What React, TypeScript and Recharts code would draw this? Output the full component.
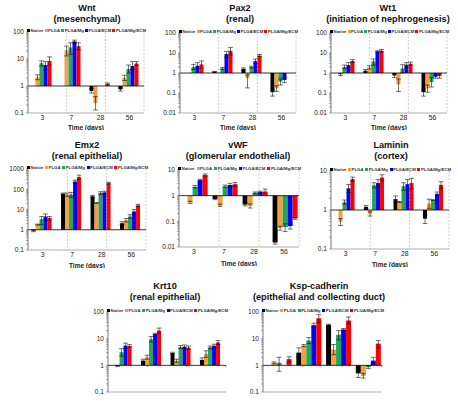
import React from 'react';
import { BarChart, Bar, XAxis, YAxis, ErrorBar, ReferenceLine, Legend } from 'recharts';

const TIMES = ['3', '7', '28', '56'];
const SERIES = ['Native', 'PLGA', 'PLGA/Mg', 'PLGA/ECM', 'PLGA/Mg/ECM'];
const COLORS = ['#000000', '#F4A040', '#21A65A', '#0000FF', '#FF0000'];

// values: rows = series (Native, PLGA, PLGA/Mg, PLGA/ECM, PLGA/Mg/ECM), cols = time
const WNT_VALUES = [
  [1, 1, 0.65, 0.75],
  [2.1, 21, 0.23, 2.0],
  [7, 27, 1.0, 4.3],
  [6, 45, 1.0, 5.5],
  [8.5, 30, 1.2, 6.8],
];
const WNT_ERRORS = [
  [[0.7, 1.4], [0.95, 1.05], [0.55, 0.8], [0.65, 0.85]],
  [[1.7, 2.6], [13, 30], [0.13, 0.4], [1.6, 2.5]],
  [[5.5, 8.5], [15, 40], [0.85, 1.2], [3, 6]],
  [[4, 8], [40, 50], [0.8, 1.2], [4, 8]],
  [[6, 12], [22, 40], [1.1, 1.3], [5.8, 8]],
];
const WNT_TICKS = [0.1, 1, 10, 100];

const PAX2_VALUES = [
  [1, 1.15, 1.6, 0.11],
  [1, 1.0, 0.55, 0.17],
  [2.0, 1.7, 2.0, 0.37],
  [2.3, 9, 4, 0.45],
  [2.7, 13, 7.5, 1.0],
];
const PAX2_ERRORS = [
  [[0.7, 1.5], [1.1, 1.2], [1.4, 1.8], [0.07, 0.15]],
  [[0.8, 1.3], [0.75, 1.25], [0.18, 0.8], [0.12, 0.23]],
  [[1.5, 2.7], [1.5, 1.9], [1.8, 2.2], [0.25, 0.5]],
  [[1.7, 3.3], [6, 12], [3, 5], [0.33, 0.6]],
  [[1.8, 4], [8, 19], [6.5, 8.5], [0.7, 1.3]],
];
const PAX2_TICKS = [0.01, 0.1, 1, 10, 100];

const WT1_VALUES = [
  [1, 1.3, 0.75, 0.11],
  [0.85, 1.9, 0.27, 0.17],
  [2.0, 3.8, 1.7, 0.35],
  [2.5, 12, 2.6, 0.65],
  [4, 13, 2.9, 0.7],
];
const WT1_ERRORS = [
  [[0.8, 1.2], [1.1, 1.5], [0.6, 0.9], [0.07, 0.16]],
  [[0.75, 0.95], [1.6, 2.3], [0.12, 0.5], [0.11, 0.25]],
  [[1.6, 2.5], [2.5, 5], [1, 2.6], [0.2, 0.6]],
  [[1.8, 3.3], [11, 13], [1.8, 3.3], [0.55, 0.75]],
  [[3.3, 4.7], [11, 15], [2.4, 3.5], [0.55, 0.9]],
];
const WT1_TICKS = [0.01, 0.1, 1, 10, 100];

const EMX2_VALUES = [
  [0.9, 60, 45, 2.1],
  [1.8, 55, 21, 3],
  [3.3, 55, 65, 4.5],
  [4.5, 240, 70, 8],
  [3.8, 400, 200, 16],
];
const EMX2_ERRORS = [
  [[0.8, 1.0], [55, 65], [40, 50], [1.8, 2.5]],
  [[1.7, 1.9], [45, 65], [20, 22], [2.4, 3.6]],
  [[1.8, 4.5], [40, 70], [55, 75], [3.7, 5.5]],
  [[3, 6], [200, 280], [60, 80], [6, 10]],
  [[3, 4.5], [300, 500], [180, 220], [14, 18]],
];
const EMX2_TICKS = [0.1, 1, 10, 100, 1000];

const VWF_VALUES = [
  [1, 0.75, 0.45, 0.015],
  [0.55, 0.42, 0.4, 0.055],
  [2.2, 2.3, 1.3, 0.06],
  [4, 2.6, 1.4, 0.065],
  [6.3, 2.8, 1.45, 0.13],
];
const VWF_ERRORS = [
  [[0.85, 1.2], [0.7, 0.8], [0.4, 0.5], [0.013, 0.018]],
  [[0.5, 0.6], [0.38, 0.47], [0.33, 0.48], [0.045, 0.065]],
  [[2, 2.5], [2.1, 2.6], [1.2, 1.4], [0.04, 0.08]],
  [[3.8, 4.3], [2.3, 3], [1.3, 1.5], [0.05, 0.08]],
  [[5.8, 7], [2.3, 3.3], [1.2, 1.8], [0.12, 0.14]],
];
const VWF_TICKS = [0.01, 0.1, 1, 10];

const LAMININ_VALUES = [
  [1, 1.2, 1.9, 0.6],
  [0.5, 0.8, 1.6, 1.45],
  [1.6, 4.3, 4.1, 1.8],
  [3.6, 4.9, 4.6, 2.6],
  [6.2, 6.8, 4.9, 4.4],
];
const LAMININ_ERRORS = [
  [[0.8, 1.2], [1.1, 1.3], [1.6, 2.3], [0.45, 0.75]],
  [[0.4, 0.6], [0.7, 0.9], [1.55, 1.65], [1.1, 1.9]],
  [[1.4, 1.8], [3.7, 5], [3.2, 5], [1.75, 1.85]],
  [[2.8, 4.5], [4, 6], [3.3, 6], [2.3, 2.9]],
  [[5.5, 7], [5.5, 8], [3.5, 6.5], [3.6, 5.3]],
];
const LAMININ_TICKS = [0.1, 1, 10];

const KRT10_VALUES = [
  [1, 1.5, 2.9, 1.6],
  [0.95, 2.0, 1.5, 2.7],
  [3.1, 9.5, 4.8, 4.7],
  [5.5, 15, 5, 5.4],
  [5.3, 20, 4.6, 7.2],
];
const KRT10_ERRORS = [
  [[0.9, 1.1], [1.3, 1.7], [2.7, 3.1], [1.4, 1.9]],
  [[0.9, 1.0], [1.7, 2.4], [1.3, 1.7], [2, 3.5]],
  [[2.2, 4.2], [7.5, 12], [4.3, 5.5], [4.2, 5.3]],
  [[4.3, 6.8], [14, 16], [4.2, 5.8], [4.6, 6.2]],
  [[4.7, 6], [16, 25], [4, 5.3], [6, 8.5]],
];
const KRT10_TICKS = [0.1, 1, 10, 100];

const KSP_VALUES = [
  [1, 3, 33, 0.5],
  [1.25, 5.5, 3.9, 0.4],
  [1.25, 8.5, 14, 0.85],
  [1, 32, 22, 1.5],
  [1.7, 58, 48, 6.5],
];
const KSP_ERRORS = [
  [[0.95, 1.05], [2, 4.5], [31, 35], [0.35, 0.65]],
  [[1.15, 1.35], [5, 6], [2.5, 6], [0.33, 0.5]],
  [[0.6, 2], [6.5, 11], [9, 20], [0.75, 0.95]],
  [[1, 1], [26, 38], [20, 24], [1.1, 2]],
  [[1.3, 2.1], [40, 80], [36, 65], [4.5, 8.5]],
];
const KSP_TICKS = [0.1, 1, 10, 100];

const FONT = '"Liberation Sans", Arial, sans-serif';

type Panel = {
  title: string;
  subtitle: string;
  values: number[][];
  errors: number[][][];
  ticks: number[];
  showTime: boolean;
  left: number;
  top: number;
  width: number;
  height: number;
  xh: number;
  titleX: number;
  titleY: number;
};

const PANELS: Panel[] = [
  { title: 'Wnt', subtitle: '(mesenchymal)', values: WNT_VALUES, errors: WNT_ERRORS, ticks: WNT_TICKS, showTime: true, left: 28, top: 32, width: 116, height: 81, xh: 17, titleX: 87, titleY: 2.5 },
  { title: 'Pax2', subtitle: '(renal)', values: PAX2_VALUES, errors: PAX2_ERRORS, ticks: PAX2_TICKS, showTime: true, left: 180, top: 33, width: 116, height: 80, xh: 17, titleX: 240, titleY: 2.5 },
  { title: 'Wt1', subtitle: '(initiation of nephrogenesis)', values: WT1_VALUES, errors: WT1_ERRORS, ticks: WT1_TICKS, showTime: true, left: 331, top: 33, width: 116, height: 80, xh: 17, titleX: 388, titleY: 2.5 },
  { title: 'Emx2', subtitle: '(renal epithelial)', values: EMX2_VALUES, errors: EMX2_ERRORS, ticks: EMX2_TICKS, showTime: true, left: 28, top: 169, width: 118, height: 81, xh: 18, titleX: 87, titleY: 139.5 },
  { title: 'vWF', subtitle: '(glomerular endothelial)', values: VWF_VALUES, errors: VWF_ERRORS, ticks: VWF_TICKS, showTime: true, left: 179, top: 170, width: 120, height: 77, xh: 19, titleX: 238, titleY: 139.5 },
  { title: 'Laminin', subtitle: '(cortex)', values: LAMININ_VALUES, errors: LAMININ_ERRORS, ticks: LAMININ_TICKS, showTime: true, left: 331, top: 171, width: 118, height: 78, xh: 18, titleX: 391, titleY: 139.5 },
  { title: 'Krt10', subtitle: '(renal epithelial)', values: KRT10_VALUES, errors: KRT10_ERRORS, ticks: KRT10_TICKS, showTime: false, left: 108, top: 312, width: 118, height: 80, xh: 2, titleX: 165, titleY: 280.5 },
  { title: 'Ksp-cadherin', subtitle: '(epithelial and collecting duct)', values: KSP_VALUES, errors: KSP_ERRORS, ticks: KSP_TICKS, showTime: false, left: 263, top: 312, width: 119, height: 80, xh: 2, titleX: 319, titleY: 280.5 },
];

function buildRows(values: number[][], errors: number[][][]) {
  return TIMES.map((t, i) => {
    const row: any = { time: t };
    values.forEach((sv, s) => {
      const v = sv[i];
      const [lo, hi] = errors[s][i];
      row['s' + s] = [1, v];
      row['e' + s] = [Math.max(0, v - lo), Math.max(0, hi - v)];
    });
    return row;
  });
}

function expandTicks(majors: number[]) {
  const out: number[] = [];
  majors.forEach((m, idx) => {
    out.push(m);
    if (idx < majors.length - 1) {
      for (let k = 2; k <= 9; k++) out.push(m * k);
    }
  });
  return out;
}

const LegendContent = () => (
  <div
    style={{
      display: 'flex',
      justifyContent: 'space-between',
      fontSize: 4.3,
      lineHeight: '5px',
      fontFamily: FONT,
      fontWeight: 'bold',
      color: '#333',
      whiteSpace: 'nowrap',
    }}
  >
    {SERIES.map((s, i) => (
      <span key={s} style={{ display: 'flex', alignItems: 'center' }}>
        <span style={{ display: 'inline-block', width: 3, height: 3, background: COLORS[i], marginRight: 0.6 }} />
        {s}
      </span>
    ))}
  </div>
);

function PanelChart({ p }: { p: Panel }) {
  const YW = 26;
  const MT = 7;
  const MR = 2;
  const w = YW + p.width + MR;
  const h = MT + p.height + p.xh;
  const data = buildRows(p.values, p.errors);
  const majors = p.ticks;
  const allTicks = expandTicks(majors);
  const domain = [majors[0], majors[majors.length - 1]];

  const YTick = (props: any) => {
    const { x, y, payload } = props;
    if (!majors.includes(payload.value)) return <g />;
    return (
      <text x={x} y={y} dy={2.3} textAnchor="end" fontSize={6.6} fill="#222" fontFamily={FONT}>
        {String(payload.value)}
      </text>
    );
  };

  return (
    <>
      <div style={{ position: 'absolute', left: p.left - YW, top: p.top - MT }}>
        <BarChart
          width={w}
          height={h}
          data={data}
          margin={{ top: MT, right: MR, left: 0, bottom: 0 }}
          barCategoryGap="12%"
          barGap={0}
        >
          <XAxis
            dataKey="time"
            height={p.xh}
            tick={p.showTime ? { fontSize: 6.8, fill: '#222', fontFamily: FONT } : false}
            tickLine={false}
            tickSize={0}
            tickMargin={2}
            axisLine={{ stroke: '#9a9a9a', strokeWidth: 0.8 }}
            label={
              p.showTime
                ? { value: 'Time (days)', position: 'insideBottom', offset: 0, fontSize: 6.5, fontWeight: 'bold', fill: '#222', fontFamily: FONT }
                : undefined
            }
          />
          <XAxis
            xAxisId="num"
            type="number"
            domain={[0, 4]}
            orientation="top"
            height={0}
            tick={false}
            tickLine={false}
            axisLine={{ stroke: '#9a9a9a', strokeWidth: 0.8 }}
          />
          <YAxis
            scale="log"
            type="number"
            domain={domain}
            allowDataOverflow
            ticks={allTicks}
            interval={0}
            width={YW}
            tick={YTick}
            tickSize={2}
            tickMargin={2}
            tickLine={{ stroke: '#555', strokeWidth: 0.5 }}
            axisLine={{ stroke: '#555', strokeWidth: 0.8 }}
          />
          <YAxis
            yAxisId="r"
            orientation="right"
            type="number"
            domain={[0, 1]}
            width={0}
            tick={false}
            tickLine={false}
            axisLine={{ stroke: '#9a9a9a', strokeWidth: 0.8 }}
          />
          <Legend
            layout="horizontal"
            verticalAlign="middle"
            align="center"
            wrapperStyle={{ top: 2.5, left: YW - 1, width: p.width + 3, height: 5 }}
            content={() => <LegendContent />}
          />
          {p.showTime
            ? [1, 2, 3].map((x) => (
                <ReferenceLine key={'sep' + x} xAxisId="num" x={x} stroke="#b5b5b5" strokeWidth={0.7} strokeDasharray="2 1.5" />
              ))
            : [1, 2, 3].map((x) => (
                <ReferenceLine
                  key={'tk' + x}
                  xAxisId="num"
                  segment={[{ x, y: 1 }, { x, y: 0.86 }]}
                  stroke="#444"
                  strokeWidth={0.6}
                />
              ))}
          {SERIES.map((s, i) => (
            <Bar key={s} dataKey={'s' + i} name={s} fill={COLORS[i]} isAnimationActive={false}>
              <ErrorBar dataKey={'e' + i} width={2.4} strokeWidth={0.6} stroke="#111" direction="y" />
            </Bar>
          ))}
          <ReferenceLine y={1} stroke="#000" strokeWidth={0.8} />
        </BarChart>
      </div>
      <div
        style={{
          position: 'absolute',
          left: p.titleX - 90,
          top: p.titleY,
          width: 180,
          textAlign: 'center',
          fontFamily: FONT,
          fontWeight: 'bold',
          fontSize: 9.2,
          lineHeight: '11px',
          color: '#111',
        }}
      >
        <div>{p.title}</div>
        <div>{p.subtitle}</div>
      </div>
    </>
  );
}

export default function App() {
  return (
    <div style={{ position: 'absolute', left: 0, top: 0, width: 458, height: 401, background: '#fff', overflow: 'hidden' }}>
      {PANELS.map((p) => (
        <PanelChart key={p.title} p={p} />
      ))}
    </div>
  );
}
